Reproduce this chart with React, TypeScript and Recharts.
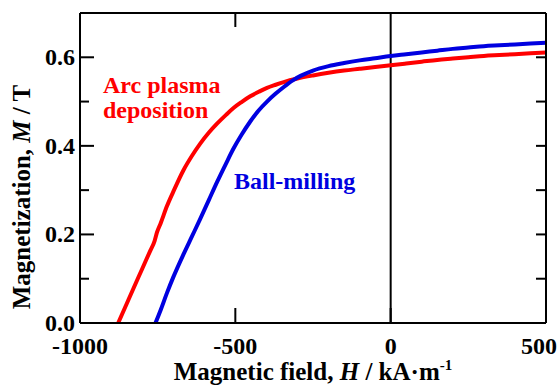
import React from 'react'
import { LineChart, Line, XAxis, YAxis, ReferenceLine } from 'recharts'

// Arc plasma deposition (red) — H in kA/m, M in T
const arcH = [-877, -850, -828, -800, -774, -760, -752, -740, -720, -700, -667, -640, -613, -585, -559, -530, -505, -480, -452, -425, -398, -370, -344, -300, -250, -200, -150, -100, -50, 0, 50, 100, 150, 200, 250, 300, 350, 400, 450, 500]
const arcM = [0, 0.043, 0.078, 0.122, 0.163, 0.185, 0.205, 0.226, 0.264, 0.296, 0.345, 0.377, 0.405, 0.43, 0.45, 0.47, 0.486, 0.499, 0.512, 0.522, 0.531, 0.538, 0.544, 0.552, 0.559, 0.565, 0.57, 0.574, 0.578, 0.582, 0.586, 0.59, 0.594, 0.597, 0.6, 0.603, 0.605, 0.607, 0.609, 0.611]

// Ball-milling (blue)
const ballH = [-757, -740, -720, -700, -667, -640, -613, -585, -559, -530, -505, -480, -452, -425, -398, -370, -344, -315, -290, -250, -200, -150, -100, -50, 0, 50, 100, 150, 200, 250, 300, 350, 400, 450, 500]
const ballM = [0, 0.03, 0.068, 0.103, 0.155, 0.195, 0.235, 0.278, 0.318, 0.36, 0.395, 0.425, 0.455, 0.48, 0.5, 0.518, 0.533, 0.548, 0.558, 0.57, 0.58, 0.587, 0.593, 0.598, 0.603, 0.607, 0.611, 0.615, 0.619, 0.622, 0.625, 0.627, 0.629, 0.631, 0.633]

const xTicks = [-1000, -500, 0, 500]
const yTicks = [0, 0.1, 0.2, 0.3, 0.4, 0.5, 0.6]
const yRightTicks = [0.1, 0.2, 0.3, 0.4, 0.5, 0.6]
const topTicks = [-500]

const arcData = arcH.map((h, i) => ({ h, m: arcM[i] }))
const ballData = ballH.map((h, i) => ({ h, m: ballM[i] }))

const FONT = 'Liberation Serif'
const RED = '#ff0000'
const BLUE = '#0000e0'

const isMajor = (v: number) => Math.round(v * 10) % 2 === 0

function BottomTick(props: any) {
  const { x, y, payload } = props
  // last label sits a bit left so it stays inside the page
  const tx = payload.value === 500 ? x - 7 : x
  return (
    <g>
      <line x1={x} y1={y} x2={x} y2={y - 15} stroke="#000" strokeWidth={2} />
      <text x={tx} y={y + 31} textAnchor="middle" fontFamily={FONT} fontWeight="bold" fontSize={24} fill="#000">
        {payload.value}
      </text>
    </g>
  )
}

function TopTick(props: any) {
  const { x, y } = props
  return <line x1={x} y1={y} x2={x} y2={y + 14} stroke="#000" strokeWidth={2} />
}

function LeftTick(props: any) {
  const { x, y, payload } = props
  const major = isMajor(payload.value)
  return (
    <g>
      <line x1={x} y1={y} x2={x + (major ? 14 : 9)} y2={y} stroke="#000" strokeWidth={2} />
      {major && (
        <text x={x - 5} y={y + 8} textAnchor="end" fontFamily={FONT} fontWeight="bold" fontSize={24} fill="#000">
          {payload.value.toFixed(1)}
        </text>
      )}
    </g>
  )
}

function RightTick(props: any) {
  const { x, y } = props
  return <line x1={x} y1={y} x2={x - 10} y2={y} stroke="#000" strokeWidth={2} />
}

export default function App() {
  return (
    <div style={{ position: 'relative', width: 559, height: 388 }}>
      <style>{`body{margin:0}`}</style>
      <LineChart width={559} height={388} margin={{ top: 12, right: 12, bottom: 64, left: 79 }}>
        <XAxis
          xAxisId={0}
          type="number"
          dataKey="h"
          domain={[-1000, 500]}
          ticks={xTicks}
          allowDataOverflow
          height={1}
          tickSize={0}
          tickMargin={0}
          tick={<BottomTick />}
          axisLine={{ stroke: '#000', strokeWidth: 2 }}
          tickLine={false}
        />
        <XAxis
          xAxisId="top"
          orientation="top"
          type="number"
          dataKey="h"
          domain={[-1000, 500]}
          ticks={topTicks}
          allowDataOverflow
          height={1}
          tickSize={0}
          tickMargin={0}
          tick={<TopTick />}
          axisLine={{ stroke: '#000', strokeWidth: 2 }}
          tickLine={false}
        />
        <YAxis
          yAxisId={0}
          type="number"
          domain={[0, 0.7]}
          ticks={yTicks}
          allowDataOverflow
          width={1}
          tickSize={0}
          tickMargin={0}
          tick={<LeftTick />}
          axisLine={{ stroke: '#000', strokeWidth: 2 }}
          tickLine={false}
        />
        <YAxis
          yAxisId="right"
          orientation="right"
          type="number"
          domain={[0, 0.7]}
          ticks={yRightTicks}
          allowDataOverflow
          width={1}
          tickSize={0}
          tickMargin={0}
          tick={<RightTick />}
          axisLine={{ stroke: '#000', strokeWidth: 2 }}
          tickLine={false}
        />
        <ReferenceLine x={0} stroke="#000" strokeWidth={2} />
        <Line data={arcData} dataKey="m" type="monotone" stroke={RED} strokeWidth={4} dot={false} isAnimationActive={false} />
        <Line data={ballData} dataKey="m" type="monotone" stroke={BLUE} strokeWidth={4} dot={false} isAnimationActive={false} />
        <Line data={ballData} dataKey="m" xAxisId="top" yAxisId="right" stroke="none" dot={false} legendType="none" isAnimationActive={false} />
      </LineChart>
      <svg width={559} height={388} style={{ position: 'absolute', left: 0, top: 0, pointerEvents: 'none' }}>
        <g fontFamily={FONT} fontWeight="bold">
          <text x={103} y={93} fontSize={24} fill={RED}>Arc plasma</text>
          <text x={103} y={118} fontSize={24} fill={RED}>deposition</text>
          <text x={234} y={189} fontSize={24} fill={BLUE}>Ball-milling</text>
          <text x={313} y={380} fontSize={25} textAnchor="middle" fill="#000">
            Magnetic field, <tspan fontStyle="italic">H</tspan> / kA·m<tspan fontSize={15} dy={-10}>-1</tspan>
          </text>
          <text x={30} y={197} fontSize={25} textAnchor="middle" fill="#000" transform="rotate(-90, 30, 197)">
            Magnetization, <tspan fontStyle="italic">M</tspan> / T
          </text>
        </g>
      </svg>
    </div>
  )
}
